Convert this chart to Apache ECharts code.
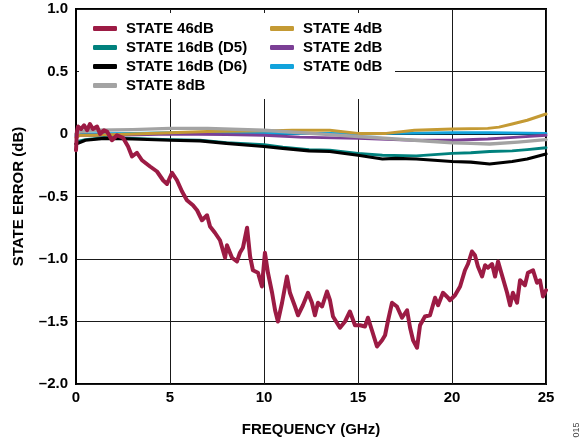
<!DOCTYPE html>
<html><head><meta charset="utf-8">
<script src="https://cdn.jsdelivr.net/npm/echarts@6/dist/echarts.min.js"></script>
<style>html,body{margin:0;padding:0;background:#fff}#c{width:585px;height:444px}</style>
</head><body><div id="c"></div>
<script>
const xTicks = [0, 5, 10, 15, 20, 25];
const yTicks = [-2.0, -1.5, -1.0, -0.5, 0, 0.5, 1.0];
const seriesNames = ['STATE 46dB','STATE 16dB (D5)','STATE 16dB (D6)','STATE 8dB','STATE 4dB','STATE 2dB','STATE 0dB'];

const state46 = [[0,-0.13],[0.05,0.02],[0.11,0.06],[0.27,0.04],[0.43,0.07],[0.59,0.03],[0.74,0.08],[0.9,0.04],[1.12,0.06],[1.28,0.0],[1.49,0.03],[1.65,0.02],[1.91,-0.05],[2.18,-0.01],[2.5,-0.03],[2.77,-0.1],[2.98,-0.18],[3.24,-0.15],[3.51,-0.21],[3.94,-0.26],[4.31,-0.3],[4.63,-0.37],[4.84,-0.4],[5.11,-0.31],[5.37,-0.37],[5.64,-0.46],[5.9,-0.53],[6.22,-0.57],[6.44,-0.61],[6.7,-0.69],[6.97,-0.65],[7.13,-0.74],[7.39,-0.79],[7.66,-0.85],[7.93,-0.99],[8.03,-0.89],[8.3,-0.99],[8.56,-1.02],[8.72,-0.95],[8.88,-0.91],[9.1,-0.75],[9.26,-0.98],[9.41,-1.09],[9.68,-1.11],[9.89,-1.22],[10.05,-0.95],[10.21,-1.11],[10.43,-1.27],[10.59,-1.41],[10.74,-1.5],[10.96,-1.35],[11.22,-1.14],[11.38,-1.27],[11.65,-1.38],[11.81,-1.45],[12.07,-1.37],[12.34,-1.27],[12.55,-1.35],[12.71,-1.45],[12.87,-1.35],[13.09,-1.38],[13.35,-1.26],[13.51,-1.33],[13.67,-1.46],[14.04,-1.55],[14.31,-1.5],[14.57,-1.42],[14.84,-1.53],[15.11,-1.53],[15.37,-1.54],[15.53,-1.47],[15.74,-1.57],[16.01,-1.7],[16.28,-1.65],[16.44,-1.61],[16.6,-1.49],[16.81,-1.35],[17.07,-1.38],[17.34,-1.47],[17.61,-1.41],[17.77,-1.55],[17.93,-1.65],[18.14,-1.71],[18.3,-1.53],[18.56,-1.46],[18.83,-1.45],[19.1,-1.31],[19.26,-1.37],[19.52,-1.27],[19.79,-1.31],[19.89,-1.33],[20.16,-1.29],[20.43,-1.22],[20.69,-1.09],[20.85,-1.04],[21.06,-0.94],[21.22,-0.97],[21.38,-1.06],[21.6,-1.14],[21.76,-1.05],[21.91,-1.07],[22.13,-1.04],[22.29,-1.14],[22.45,-1.02],[22.66,-1.13],[22.93,-1.27],[23.09,-1.37],[23.24,-1.27],[23.46,-1.35],[23.62,-1.17],[23.88,-1.21],[24.04,-1.11],[24.31,-1.09],[24.52,-1.19],[24.68,-1.17],[24.84,-1.3],[25,-1.25]];
const state16D5 = [[0,-0.08],[0.1,-0.06],[0.5,-0.045],[1.5,-0.03],[3,-0.035],[5,-0.045],[6.6,-0.05],[8,-0.07],[10,-0.085],[11,-0.105],[12.4,-0.125],[13.5,-0.13],[15,-0.155],[16.3,-0.17],[18.1,-0.175],[20,-0.155],[21,-0.15],[22,-0.14],[23.2,-0.135],[24,-0.125],[25,-0.11]];
const state16D6 = [[0,-0.08],[0.1,-0.07],[0.5,-0.05],[1.5,-0.035],[3,-0.04],[5,-0.05],[6.6,-0.055],[8,-0.075],[10,-0.1],[11,-0.115],[12.4,-0.135],[13.5,-0.14],[15,-0.17],[16.3,-0.2],[17,-0.195],[18.1,-0.2],[20,-0.22],[21,-0.225],[22,-0.24],[23.2,-0.22],[24,-0.2],[25,-0.16]];
const state8 = [[0,0.0],[0.2,0.02],[1,0.03],[3,0.035],[5,0.045],[7,0.045],[10,0.03],[11,0.02],[12,0.01],[13.5,-0.005],[15,-0.02],[17,-0.04],[20,-0.07],[21,-0.075],[22,-0.08],[23.5,-0.065],[25,-0.045]];
const state4 = [[0,-0.03],[0.2,-0.01],[1,-0.01],[3,0.0],[5,0.01],[7,0.02],[10,0.025],[11.5,0.03],[13.5,0.03],[15,0.005],[16.5,0.005],[18,0.03],[20,0.04],[21.9,0.045],[22.5,0.055],[23.2,0.08],[24,0.11],[25,0.16]];
const state2 = [[0,-0.02],[0.2,-0.01],[2,-0.01],[5,0.0],[8,-0.005],[10,-0.01],[11.9,-0.025],[15,-0.035],[18,-0.05],[20,-0.05],[21.9,-0.04],[23.5,-0.025],[25,-0.01]];
const state0 = [[0,-0.01],[0.2,0.0],[3,0.005],[5,0.01],[8,0.01],[10,0.005],[13.5,0.005],[15,0.0],[17,0.005],[20,0.01],[22,0.01],[25,0.005]];

const colors = {
  'STATE 46dB':'#9C1B44','STATE 16dB (D5)':'#00817D','STATE 16dB (D6)':'#000000',
  'STATE 8dB':'#A3A3A3','STATE 4dB':'#C49A34','STATE 2dB':'#7B3F95','STATE 0dB':'#12A3DC'
};
const FONT = 'Liberation Sans, Arial, Helvetica, sans-serif';
function mk(name, data, w, z) {
  return {name, type:'line', data, showSymbol:false, symbol:'none', z,
    lineStyle:{color:colors[name], width:w, cap:'round', join:'round'},
    itemStyle:{color:colors[name]}, emphasis:{disabled:true}, animation:false};
}
const chart = echarts.init(document.getElementById('c'), null, {renderer:'canvas'});
const legendCommon = {orient:'vertical', icon:'roundRect', itemWidth:24, itemHeight:5, itemGap:0,
  padding:0, textStyle:{fontFamily:FONT, fontWeight:'bold', fontSize:15, color:'#000', lineHeight:19, padding:[0,0,0,4]},
  selectedMode:false, z:5};
chart.setOption({
  animation:false,
  grid:{left:76, right:39, top:9, bottom:60, show:true, borderColor:'#000', borderWidth:2, backgroundColor:'transparent'},
  xAxis:{type:'value', min:0, max:25, interval:5,
    name:'FREQUENCY (GHz)', nameLocation:'middle', nameGap:38,
    nameTextStyle:{fontFamily:FONT, fontWeight:'bold', fontSize:15, color:'#000'},
    axisLine:{show:true, lineStyle:{color:'#000', width:2}}, axisTick:{show:false},
    axisLabel:{fontFamily:FONT, fontWeight:'bold', fontSize:15, color:'#000', margin:6,
      formatter:v => xTicks.includes(v) ? String(v) : ''},
    splitLine:{show:true, lineStyle:{color:'#1a1a1a', width:1}}},
  yAxis:{type:'value', min:-2, max:1, interval:0.5,
    name:'STATE ERROR (dB)', nameLocation:'middle', nameGap:50,
    nameTextStyle:{fontFamily:FONT, fontWeight:'bold', fontSize:15, color:'#000'},
    axisLine:{show:true, lineStyle:{color:'#000', width:2}}, axisTick:{show:false},
    axisLabel:{fontFamily:FONT, fontWeight:'bold', fontSize:15, color:'#000', margin:8,
      formatter:v => { const t = yTicks.find(k => Math.abs(k - v) < 1e-9); if (t === undefined) return ''; return t === 0 ? '0' : t.toFixed(1).replace('-', '\u2013'); }},
    splitLine:{show:true, lineStyle:{color:'#1a1a1a', width:1}}},
  legend:[
    Object.assign({}, legendCommon, {left:93, top:19, data:seriesNames.slice(0,4)}),
    Object.assign({}, legendCommon, {left:270, top:19, data:seriesNames.slice(4)})
  ],
  graphic:[
    {type:'rect', z:3, shape:{x:79, y:13, width:316, height:86}, style:{fill:'#fff'}},
    {type:'text', x:577, y:430, rotation:Math.PI/2, z:5,
      style:{text:'015', fontFamily:FONT, fontSize:9, fill:'#444', align:'center', verticalAlign:'middle'}}
  ],
  series:[
    mk('STATE 0dB', state0, 3, 2),
    mk('STATE 2dB', state2, 3, 2),
    mk('STATE 4dB', state4, 3, 2),
    mk('STATE 8dB', state8, 3.4, 2),
    mk('STATE 16dB (D5)', state16D5, 3, 2),
    mk('STATE 16dB (D6)', state16D6, 3.2, 2),
    mk('STATE 46dB', state46, 4, 2)
  ]
});
</script></body></html>
